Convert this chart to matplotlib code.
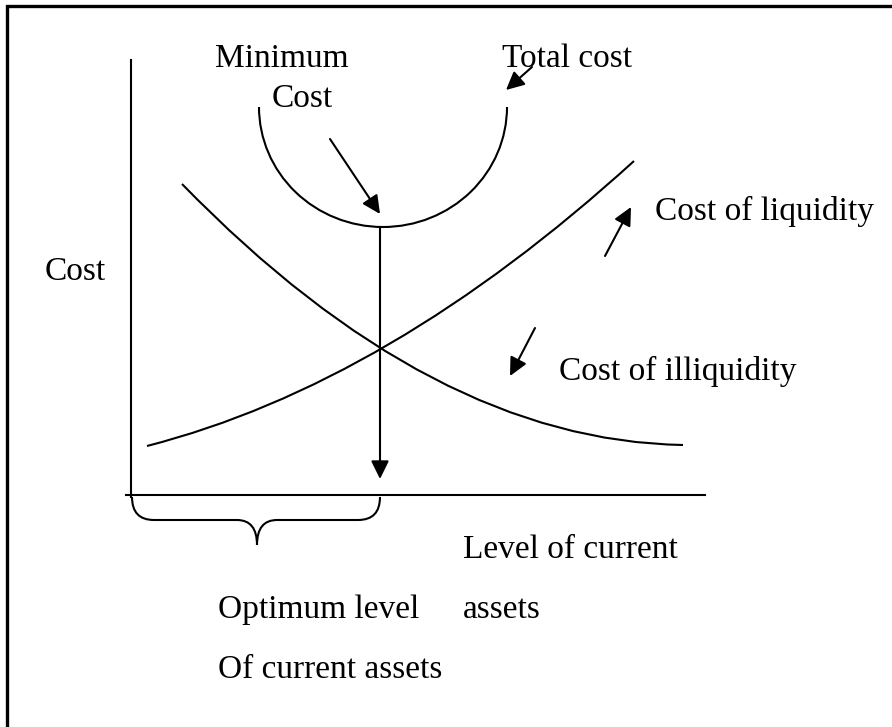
import matplotlib.pyplot as plt
from matplotlib.patches import Arc, PathPatch
from matplotlib.path import Path

# all coordinates are pixels of the 892x727 picture, y grows downwards
W, H = 892, 727

# cost curves (quadratic bezier: start, control, end)
liquidity_curve = [(147, 446), (389, 384), (634, 161)]
illiquidity_curve = [(182, 184), (432, 441), (683, 445)]

# total cost: lower half of an ellipse
total_center = (383, 107)
total_size = (248, 240)

# axes
y_axis = [(131, 60), (131, 497)]
x_axis = [(126, 495), (705, 495)]

# arrows: (from, to)
arrows = [
    ((380, 227), (380, 479)),   # minimum cost down to the x axis
    ((330, 139), (380, 214)),   # "Minimum Cost"
    ((532, 67), (506, 90)),     # "Total cost"
    ((605, 256), (631, 207)),   # cost of liquidity
    ((535, 328), (510, 376)),   # cost of illiquidity
]

# brace under the x axis
brace_left, brace_mid, brace_right = 132, 257, 380
brace_top, brace_bar, brace_tip = 497, 520, 545

# labels: (text, x, baseline)
labels = [
    ("Minimum", 215, 67),
    ("Cost", 272, 107),
    ("Total cost", 502, 67),
    ("Cost of liquidity", 655, 220),
    ("Cost", 45, 280),
    ("Cost of illiquidity", 559, 380),
    ("Level of current", 463, 558),
    ("Optimum level", 218, 618),
    ("assets", 463, 618),
    ("Of current assets", 218, 678),
]

plt.rcParams['font.family'] = ['Liberation Serif', 'DejaVu Serif']

fig = plt.figure(figsize=(W / 100, H / 100), dpi=100)
ax = fig.add_axes([0, 0, 1, 1])
ax.set_xlim(0, W)
ax.set_ylim(H, 0)
ax.axis('off')

lw = 1.5

# frame (only top and left edges are inside the picture)
ax.plot([7, 7, W + 5], [H + 5, 6, 6], color='black', lw=2.4, solid_joinstyle='miter')

ax.plot(*zip(*y_axis), color='black', lw=lw)
ax.plot(*zip(*x_axis), color='black', lw=lw)

for pts in (liquidity_curve, illiquidity_curve):
    path = Path(pts, [Path.MOVETO, Path.CURVE3, Path.CURVE3])
    ax.add_patch(PathPatch(path, fill=False, color='black', lw=lw))

ax.add_patch(Arc(total_center, total_size[0], total_size[1], theta1=0, theta2=180,
                 color='black', lw=lw))

for start, end in arrows:
    ax.annotate('', xy=end, xytext=start,
                arrowprops=dict(arrowstyle='-|>,head_length=0.55,head_width=0.27',
                                mutation_scale=20, color='black', lw=lw,
                                shrinkA=0, shrinkB=0))

# curly brace
verts = [
    (brace_left, brace_top), (brace_left, brace_bar), (brace_left + 22, brace_bar),
    (brace_mid - 20, brace_bar),
    (brace_mid, brace_bar), (brace_mid, brace_tip),
    (brace_mid, brace_bar), (brace_mid + 20, brace_bar),
    (brace_right - 22, brace_bar),
    (brace_right, brace_bar), (brace_right, brace_top),
]
codes = [Path.MOVETO, Path.CURVE3, Path.CURVE3, Path.LINETO,
         Path.CURVE3, Path.CURVE3, Path.CURVE3, Path.CURVE3,
         Path.LINETO, Path.CURVE3, Path.CURVE3]
ax.add_patch(PathPatch(Path(verts, codes), fill=False, color='black', lw=lw))

for text, x, y in labels:
    ax.text(x, y, text, fontsize=24, ha='left', va='baseline', color='black')

fig.savefig('out.png', dpi=100, facecolor='white')
